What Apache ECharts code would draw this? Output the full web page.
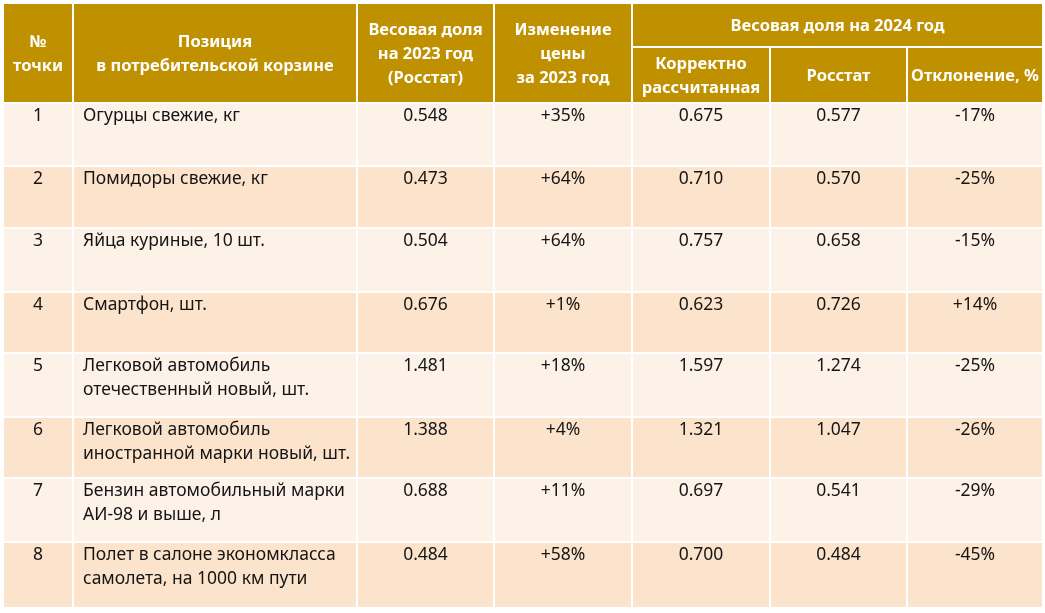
<!DOCTYPE html>
<html lang="ru">
<head>
<meta charset="UTF-8">
<title>Весовая доля в потребительской корзине</title>
<script src="https://cdn.jsdelivr.net/npm/echarts@6/dist/echarts.min.js"></script>
</head>
<body style="margin:0;background:#fff">
<div id="container" style="width:1045px;height:613px"></div>
<script>
// данные таблицы
var points = [1, 2, 3, 4, 5, 6, 7, 8];
var positions = [
    'Огурцы свежие, кг',
    'Помидоры свежие, кг',
    'Яйца куриные, 10 шт.',
    'Смартфон, шт.',
    'Легковой автомобиль\nотечественный новый, шт.',
    'Легковой автомобиль\nиностранной марки новый, шт.',
    'Бензин автомобильный марки\nАИ-98 и выше, л',
    'Полет в салоне экономкласса\nсамолета, на 1000 км пути'
];
var weight2023 = [0.548, 0.473, 0.504, 0.676, 1.481, 1.388, 0.688, 0.484];
var priceChange2023 = [35, 64, 64, 1, 18, 4, 11, 58];
var weightCorrect2024 = [0.675, 0.710, 0.757, 0.623, 1.597, 1.321, 0.697, 0.700];
var weightRosstat2024 = [0.577, 0.570, 0.658, 0.726, 1.274, 1.047, 0.541, 0.484];
var deviation = [-17, -25, -15, 14, -25, -26, -29, -45];

var headerTop = ['№\nточки', 'Позиция\nв потребительской корзине', 'Весовая доля\nна 2023 год\n(Росстат)',
    'Изменение\nцены\nза 2023 год', 'Весовая доля на 2024 год'];
var headerSub = ['Корректно\nрассчитанная', 'Росстат', 'Отклонение, %'];

// разметка (пиксели сетки)
var colEdges = [3, 73, 357, 494, 632, 770, 907, 1043];
var headEdges = [3, 47, 103];
var rowEdges = [103, 166, 228, 292, 353, 417, 478, 542, 608];

function pct(v) { return (v > 0 ? '+' : '') + v + '%'; }

var bodyRows = [];
for (var i = 0; i < points.length; i++) {
    bodyRows.push([
        String(points[i]), positions[i], weight2023[i].toFixed(3), pct(priceChange2023[i]),
        weightCorrect2024[i].toFixed(3), weightRosstat2024[i].toFixed(3), pct(deviation[i])
    ]);
}

var bodyData = [];
for (var r = 0; r < bodyRows.length; r++) {
    for (var c = 0; c < 7; c++) bodyData.push([c, r]);
}

// шапка: [col0, col1, row0, row1] в индексах colEdges / headEdges
var headerCells = [
    [0, 1, 0, 2], [1, 2, 0, 2], [2, 3, 0, 2], [3, 4, 0, 2], [4, 7, 0, 1],
    [4, 5, 1, 2], [5, 6, 1, 2], [6, 7, 1, 2]
];
var headerTexts = headerTop.concat(headerSub);

function bodyItem(params, api) {
    var c = api.value(0), r = api.value(1);
    var p0 = api.coord([colEdges[c], rowEdges[r]]);
    var p1 = api.coord([colEdges[c + 1], rowEdges[r + 1]]);
    var left = c === 1;
    return {
        type: 'group',
        children: [{
            type: 'rect',
            shape: {x: p0[0] + 1, y: p0[1] + 1, width: p1[0] - p0[0] - 2, height: p1[1] - p0[1] - 2},
            style: {fill: r % 2 ? '#FCE4CC' : '#FDF2E8'}
        }, {
            type: 'text',
            x: left ? p0[0] + 10 : (p0[0] + p1[0]) / 2,
            y: p0[1] + 1.5,
            style: {
                text: bodyRows[r][c],
                fill: '#151515',
                font: '17.5px "Noto Sans"',
                align: left ? 'left' : 'center',
                verticalAlign: 'top',
                lineHeight: 24
            }
        }]
    };
}

function headItem(params, api) {
    var c0 = api.value(0), c1 = api.value(1), r0 = api.value(2), r1 = api.value(3);
    var p0 = api.coord([colEdges[c0], headEdges[r0]]);
    var p1 = api.coord([colEdges[c1], headEdges[r1]]);
    return {
        type: 'group',
        children: [{
            type: 'rect',
            shape: {x: p0[0] + 1, y: p0[1] + 1, width: p1[0] - p0[0] - 2, height: p1[1] - p0[1] - 2},
            style: {fill: '#BF9000'}
        }, {
            type: 'text',
            x: (p0[0] + p1[0]) / 2,
            y: (p0[1] + p1[1]) / 2 + 1,
            style: {
                text: headerTexts[params.dataIndex],
                fill: '#ffffff',
                font: 'bold 16.5px "Noto Sans"',
                align: 'center',
                verticalAlign: 'middle',
                lineHeight: 24
            }
        }]
    };
}

var chart = echarts.init(document.getElementById('container'));
var option = {
    animation: false,
    grid: {left: 0, right: 0, top: 0, bottom: 0},
    xAxis: {type: 'value', min: 0, max: 1045, show: false},
    yAxis: {type: 'value', min: 0, max: 613, inverse: true, show: false},
    series: [{
        type: 'custom',
        renderItem: headItem,
        data: headerCells,
        clip: false
    }, {
        type: 'custom',
        renderItem: bodyItem,
        data: bodyData,
        clip: false
    }]
};
chart.setOption(option);
</script>
</body>
</html>
